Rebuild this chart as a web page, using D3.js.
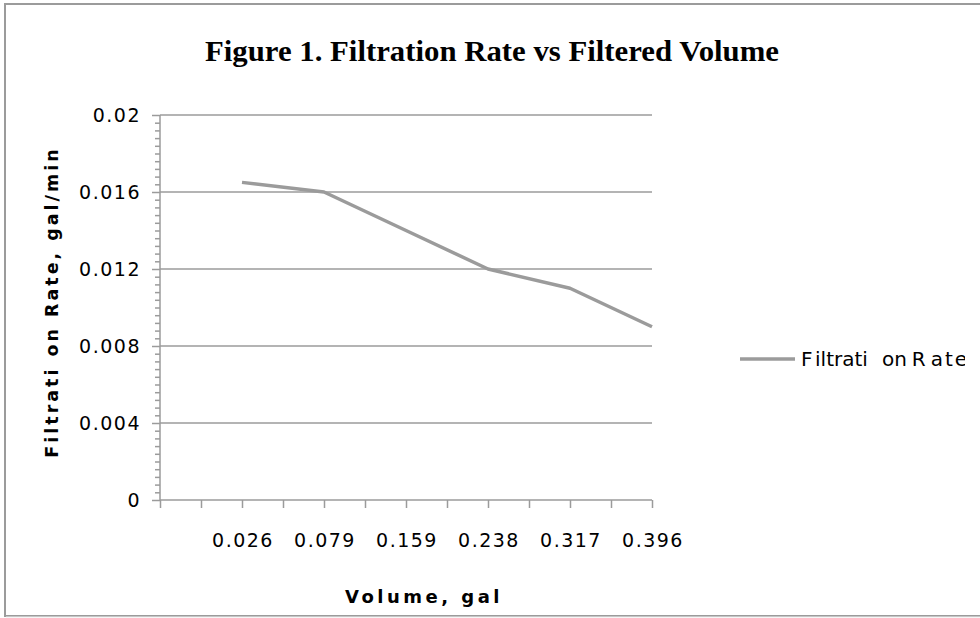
<!DOCTYPE html>
<html>
<head>
<meta charset="utf-8">
<script src="https://cdn.jsdelivr.net/npm/d3@7"></script>
<style>
  html, body { margin: 0; padding: 0; background: #fff; }
  svg { display: block; }
</style>
</head>
<body>
<svg id="chart" width="980" height="618"></svg>
<script>
// ---- data ----
const volumes = ["0.026", "0.079", "0.159", "0.238", "0.317", "0.396"];
const rates = [0.0165, 0.016, 0.014, 0.012, 0.011, 0.009];
const yTicks = [0, 0.004, 0.008, 0.012, 0.016, 0.02];
const yTickLabels = ["0", "0.004", "0.008", "0.012", "0.016", "0.02"];
const titleText = "Figure 1. Filtration Rate vs Filtered Volume";
const seriesName = "Filtration Rate";

const svg = d3.select("#chart");
const W = 980, H = 618;
const grey = "#9b9b9b";

// chart border
svg.append("rect").attr("x", 5).attr("y", 4).attr("width", 980).attr("height", 612)
  .attr("fill", "#fff").attr("stroke", grey).attr("stroke-width", 2);
svg.append("line").attr("x1", 6).attr("x2", W).attr("y1", 617).attr("y2", 617)
  .attr("stroke", "#eeeeee").attr("stroke-width", 1);

// scales
const x0 = 160, x1 = 652, yTop = 115, yBot = 500;
const nSlots = volumes.length * 2;
const x = d3.scaleLinear().domain([0, nSlots]).range([x0, x1]);
const y = d3.scaleLinear().domain([0, 0.02]).range([yBot, yTop]);
const slotOf = i => 2 * (i + 1);

// title
svg.append("text")
  .attr("x", 492).attr("y", 61)
  .attr("text-anchor", "middle")
  .attr("font-family", "Liberation Serif, serif")
  .attr("font-weight", "bold")
  .attr("font-size", 30)
  .attr("textLength", 574)
  .attr("lengthAdjust", "spacingAndGlyphs")
  .attr("fill", "#000")
  .text(titleText);

// gridlines
svg.append("g").selectAll("line").data(yTicks.filter(d => d > 0)).join("line")
  .attr("x1", x0).attr("x2", x1)
  .attr("y1", d => y(d)).attr("y2", d => y(d))
  .attr("stroke", grey).attr("stroke-width", 1.5);

// y axis (major)
const yAxis = d3.axisLeft(y).tickValues(yTicks)
  .tickFormat((d, i) => yTickLabels[i]).tickSize(8).tickPadding(11);
const gy = svg.append("g").attr("transform", `translate(${x0},0)`).call(yAxis);
gy.select(".domain").remove();
gy.selectAll(".tick line").attr("stroke", grey).attr("stroke-width", 1.5);
gy.selectAll(".tick text")
  .attr("font-family", "DejaVu Sans, sans-serif").attr("font-size", 19)
  .attr("letter-spacing", 1.5).attr("fill", "#000").attr("dy", "0.35em");

// y minor ticks
const minor = d3.range(0, 51).map(k => k * 0.0004).filter(v => Math.round(v * 10000) % 40 !== 0);
const gym = svg.append("g").attr("transform", `translate(${x0},0)`)
  .call(d3.axisLeft(y).tickValues(minor).tickSize(5).tickFormat(""));
gym.select(".domain").remove();
gym.selectAll(".tick line").attr("stroke", grey).attr("stroke-width", 1.5);

// y axis line
svg.append("line").attr("x1", x0).attr("x2", x0).attr("y1", yTop).attr("y2", yBot)
  .attr("stroke", grey).attr("stroke-width", 1.5);

// x axis
const gx = svg.append("g").attr("transform", `translate(0,${yBot})`)
  .call(d3.axisBottom(x).tickValues(d3.range(0, nSlots + 1)).tickSize(8).tickFormat(""));
gx.select(".domain").remove();
gx.selectAll(".tick line").attr("stroke", grey).attr("stroke-width", 1.5);
svg.append("line").attr("x1", x0).attr("x2", x1).attr("y1", yBot).attr("y2", yBot)
  .attr("stroke", grey).attr("stroke-width", 1.5);

// x labels
svg.append("g").selectAll("text").data(volumes).join("text")
  .attr("x", (d, i) => x(slotOf(i)) + 1).attr("y", 547)
  .attr("text-anchor", "middle")
  .attr("font-family", "DejaVu Sans, sans-serif").attr("font-size", 19)
  .attr("letter-spacing", 1.5).attr("fill", "#000")
  .text(d => d);

// series line
const line = d3.line().x((d, i) => x(slotOf(i))).y(d => y(d));
svg.append("path").datum(rates)
  .attr("d", line).attr("fill", "none")
  .attr("stroke", grey).attr("stroke-width", 3.5).attr("stroke-linejoin", "round");

// axis titles
const yl = svg.append("text")
  .attr("transform", "translate(58,302) rotate(-90)")
  .attr("text-anchor", "middle")
  .attr("font-family", "DejaVu Sans, sans-serif").attr("font-weight", "bold")
  .attr("font-size", 17.5).attr("letter-spacing", 3).attr("fill", "#000");
yl.append("tspan").text("Filtrati");
yl.append("tspan").attr("dx", 10).text("on Rate, gal/min");

svg.append("text")
  .attr("x", 424).attr("y", 603)
  .attr("text-anchor", "middle")
  .attr("font-family", "DejaVu Sans, sans-serif").attr("font-weight", "bold")
  .attr("font-size", 18).attr("letter-spacing", 3.5).attr("fill", "#000")
  .text("Volume, gal");

// legend
svg.append("defs").append("clipPath").attr("id", "lgclip")
  .append("rect").attr("x", 700).attr("y", 330).attr("width", 265).attr("height", 60);
const lg = svg.append("g").attr("clip-path", "url(#lgclip)");
lg.append("line").attr("x1", 740).attr("x2", 795).attr("y1", 359).attr("y2", 359)
  .attr("stroke", grey).attr("stroke-width", 3.5);
const lt = lg.append("text").attr("x", 801).attr("y", 366)
  .attr("font-family", "DejaVu Sans, sans-serif").attr("font-size", 20)
  .attr("fill", "#000");
lt.append("tspan").text(seriesName.slice(0, 1));
lt.append("tspan").attr("dx", 4).text(seriesName.slice(1, 8));
lt.append("tspan").attr("dx", 14).text(seriesName.slice(8, 10));
lt.append("tspan").attr("dx", 5).text(seriesName.slice(11, 12));
lt.append("tspan").attr("dx", 5).attr("letter-spacing", 2).text(seriesName.slice(12));
</script>
</body>
</html>
